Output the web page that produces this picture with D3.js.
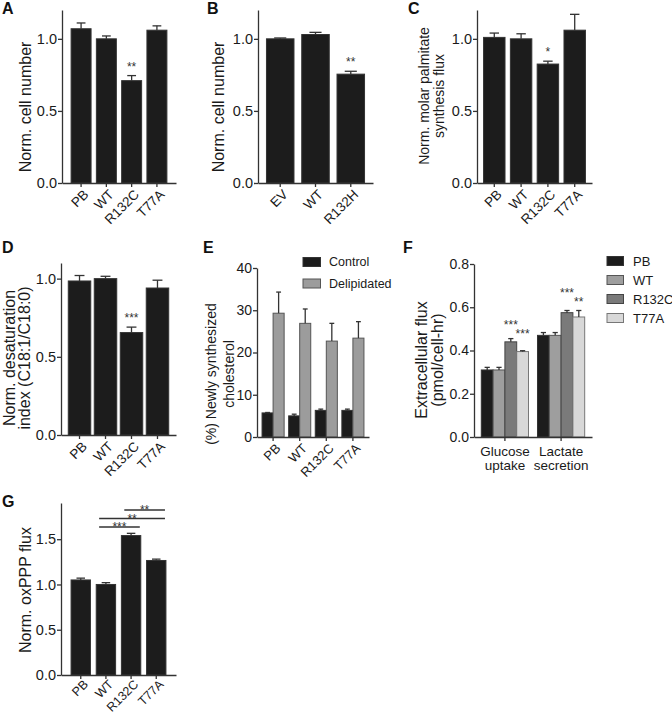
<!DOCTYPE html>
<html>
<head>
<meta charset="utf-8">
<script src="https://cdn.jsdelivr.net/npm/d3@7"></script>
<style>
body { margin: 0; background: #fff; }
svg { display: block; font-family: "Liberation Sans", Arial, sans-serif; }
</style>
</head>
<body>
<svg width="672" height="717"></svg>
<script>
const width = 672;
const height = 717;

//--------------------data--------------------
const catsA = ["PB", "WT", "R132C", "T77A"];
const valsA = [1.07, 1.00, 0.71, 1.06];
const errA = [0.04, 0.02, 0.035, 0.03];
const starsA = ["", "", "**", ""];

const catsB = ["EV", "WT", "R132H"];
const valsB = [1.00, 1.03, 0.755];
const errB = [0.006, 0.015, 0.02];
const starsB = ["", "", "**"];

const catsC = ["PB", "WT", "R132C", "T77A"];
const valsC = [1.01, 1.00, 0.825, 1.06];
const errC = [0.03, 0.035, 0.02, 0.11];
const starsC = ["", "", "*", ""];

const catsD = ["PB", "WT", "R132C", "T77A"];
const valsD = [0.985, 1.00, 0.655, 0.94];
const errD = [0.035, 0.015, 0.035, 0.05];
const starsD = ["", "", "***", ""];

const catsE = ["PB", "WT", "R132C", "T77A"];
const seriesE = ["Control", "Delipidated"];
const controlE = [5.7, 5.0, 6.3, 6.3];
const controlErrE = [0.1, 0.4, 0.3, 0.3];
const delipE = [29.3, 26.9, 22.7, 23.4];
const delipErrE = [5.0, 3.4, 4.2, 3.9];

const groupsF = [["Glucose", "uptake"], ["Lactate", "secretion"]];
const seriesF = ["PB", "WT", "R132C", "T77A"];
const glucoseF = [0.31, 0.31, 0.44, 0.395];
const glucoseErrF = [0.012, 0.012, 0.015, 0.004];
const lactateF = [0.47, 0.47, 0.575, 0.555];
const lactateErrF = [0.013, 0.013, 0.01, 0.03];
const glucoseStarsF = ["", "", "***", "***"];
const lactateStarsF = ["", "", "***", "**"];

const catsG = ["PB", "WT", "R132C", "T77A"];
const valsG = [1.05, 1.00, 1.54, 1.265];
const errG = [0.02, 0.02, 0.025, 0.015];
const sigG = [["WT", "R132C", "***"], ["WT", "T77A", "**"], ["R132C", "T77A", "**"]];

//--------------------helpers--------------------
const svg = d3.select("svg");
const axisColor = "#333";
const textColor = "#1a1a1a";

function styleAxis(g, fs) {
    g.attr("font-family", null).attr("font-size", null);
    g.select(".domain").attr("stroke", axisColor).attr("stroke-width", 1.3);
    g.selectAll(".tick line").attr("stroke", axisColor).attr("stroke-width", 1.3);
    g.selectAll(".tick text").attr("fill", textColor).style("font-size", fs + "px");
}

function drawYAxis(y, x0, tickVals, fmt, fs) {
    const g = svg.append("g")
        .attr("transform", "translate(" + x0 + ",0)")
        .call(d3.axisLeft(y).tickValues(tickVals).tickFormat(fmt)
            .tickSize(4).tickPadding(1).tickSizeOuter(0));
    styleAxis(g, fs);
}

function drawXAxisRotated(x, yBase, fs, dy) {
    const g = svg.append("g")
        .attr("transform", "translate(0," + yBase + ")")
        .call(d3.axisBottom(x).tickSize(4).tickSizeOuter(0));
    styleAxis(g, fs);
    g.selectAll(".tick text")
        .attr("x", 0)
        .attr("y", 0)
        .attr("dy", "0.35em")
        .attr("transform", "translate(5," + dy + ") rotate(-45)")
        .style("text-anchor", "end");
}

function yLabel(lines, cx, cy, fs, gap) {
    lines.forEach((t, i) => {
        svg.append("text")
            .attr("transform", "translate(" + (cx + i * gap) + "," + cy + ") rotate(-90)")
            .attr("dy", "0.35em")
            .attr("text-anchor", "middle")
            .attr("fill", textColor)
            .style("font-size", fs + "px")
            .text(t);
    });
}

function panelLetter(letter, x, y) {
    svg.append("text")
        .attr("x", x)
        .attr("y", y)
        .attr("fill", "#111")
        .style("font-size", "16px")
        .style("font-weight", "bold")
        .text(letter);
}

function drawBar(x, w, y, yBase, v, e, fill, stroke) {
    svg.append("rect")
        .attr("x", x)
        .attr("y", y(v))
        .attr("width", w)
        .attr("height", yBase - y(v))
        .attr("fill", fill)
        .attr("stroke", stroke)
        .attr("stroke-width", 1);

    //upper error whisker with cap
    const cx = x + w / 2;
    svg.append("line")
        .attr("x1", cx).attr("x2", cx)
        .attr("y1", y(v)).attr("y2", y(v + e))
        .attr("stroke", axisColor).attr("stroke-width", 1.3);
    svg.append("line")
        .attr("x1", cx - w * 0.22).attr("x2", cx + w * 0.22)
        .attr("y1", y(v + e)).attr("y2", y(v + e))
        .attr("stroke", axisColor).attr("stroke-width", 1.3);
}

function drawStars(cx, yTop, s, lift) {
    if (!s) return;
    svg.append("text")
        .attr("x", cx)
        .attr("y", yTop - lift + 7)
        .attr("text-anchor", "middle")
        .attr("fill", "#333")
        .style("font-size", "12px")
        .text(s);
}

//--------------------simple bar panel--------------------
function drawSimplePanel(cfg) {
    const y = d3.scaleLinear().domain([0, cfg.yMax]).range([cfg.yBase, cfg.yTop]);
    const x = d3.scaleBand().domain(cfg.cats).range([cfg.x0, cfg.x1])
        .paddingInner(cfg.padIn).paddingOuter(cfg.padOut);
    const bw = x.bandwidth();

    cfg.cats.forEach((c, i) => {
        drawBar(x(c), bw, y, cfg.yBase, cfg.vals[i], cfg.errs[i], "#1c1c1c", "#333");
        if (cfg.stars)
            drawStars(x(c) + bw / 2, y(cfg.vals[i] + cfg.errs[i]), cfg.stars[i], 12);
    });

    drawYAxis(y, cfg.x0, cfg.ticks, d3.format(".1f"), cfg.fs);
    drawXAxisRotated(x, cfg.yBase, cfg.xfs || 13.5, cfg.xdy || 9);
    return { x, y, bw };
}

//--------------------A--------------------
drawSimplePanel({
    cats: catsA, vals: valsA, errs: errA, stars: starsA,
    x0: 62, x1: 176, yBase: 183, yTop: 10, yMax: 1.2,
    padIn: 0.21, padOut: 0.36, ticks: [0, 0.5, 1.0], fs: 14.5
});
yLabel(["Norm. cell number"], 25, 107, 16, 0);
panelLetter("A", 2, 14);

//--------------------B--------------------
drawSimplePanel({
    cats: catsB, vals: valsB, errs: errB, stars: starsB,
    x0: 258, x1: 373, yBase: 183, yTop: 10, yMax: 1.2,
    padIn: 0.22, padOut: 0.24, ticks: [0, 0.5, 1.0], fs: 14.5
});
yLabel(["Norm. cell number"], 218, 107, 16, 0);
panelLetter("B", 207, 14);

//--------------------C--------------------
drawSimplePanel({
    cats: catsC, vals: valsC, errs: errC, stars: starsC,
    x0: 477, x1: 592, yBase: 183, yTop: 10, yMax: 1.2,
    padIn: 0.2, padOut: 0.245, ticks: [0, 0.5, 1.0], fs: 14.5
});
yLabel(["Norm. molar palmitate", "synthesis flux"], 424, 96, 14, 15);
panelLetter("C", 408, 14);

//--------------------D--------------------
drawSimplePanel({
    cats: catsD, vals: valsD, errs: errD, stars: starsD,
    x0: 61, x1: 176, yBase: 435, yTop: 263, yMax: 1.1,
    padIn: 0.135, padOut: 0.28, ticks: [0, 0.5, 1.0], fs: 14.5
});
yLabel(["Norm. desaturation", "index (C18:1/C18:0)"], 9, 358, 16, 15);
panelLetter("D", 2, 253);

//--------------------E--------------------
(function () {
    const x0 = 257, x1 = 369, yBase = 437, yTop = 268;
    const y = d3.scaleLinear().domain([0, 40]).range([yBase, yTop]);
    const x = d3.scaleBand().domain(catsE).range([x0, x1]).paddingInner(0.17).paddingOuter(0.19);
    const xi = d3.scaleBand().domain(seriesE).range([0, x.bandwidth()]);
    const fills = ["#1c1c1c", "#9c9c9c"];
    const strokes = ["#333", "#555"];
    const vals = [controlE, delipE];
    const errs = [controlErrE, delipErrE];

    catsE.forEach((c, i) => {
        seriesE.forEach((s, j) => {
            drawBar(x(c) + xi(s), xi.bandwidth(), y, yBase, vals[j][i], errs[j][i], fills[j], strokes[j]);
        });
    });

    drawYAxis(y, x0, [0, 10, 20, 30, 40], d3.format("d"), 14);
    drawXAxisRotated(x, yBase, 13, 9);

    //legend
    seriesE.forEach((s, j) => {
        const ly = 262 + j * 21.5;
        svg.append("rect")
            .attr("x", 303).attr("y", ly - 4.5)
            .attr("width", 17.5).attr("height", 9)
            .attr("fill", fills[j]).attr("stroke", strokes[j]);
        svg.append("text")
            .attr("x", 329).attr("y", ly)
            .attr("dy", "0.35em")
            .attr("fill", textColor)
            .style("font-size", "12.5px")
            .text(s);
    });

    yLabel(["(%) Newly synthesized", "cholesterol"], 211, 374, 14, 18);
    panelLetter("E", 203, 253);
})();

//--------------------F--------------------
(function () {
    const x0 = 474, x1 = 592, yBase = 437, yTop = 264;
    const y = d3.scaleLinear().domain([0, 0.8]).range([yBase, yTop]);
    const groupKeys = groupsF.map(g => g.join(" "));
    const x = d3.scaleBand().domain(groupKeys).range([x0, x1]).paddingInner(0.16).paddingOuter(0.13);
    const xi = d3.scaleBand().domain(seriesF).range([0, x.bandwidth()]);
    const fills = ["#1c1c1c", "#9e9e9e", "#7a7a7a", "#d8d8d8"];
    const strokes = ["#333", "#555", "#444", "#777"];
    const vals = [glucoseF, lactateF];
    const errs = [glucoseErrF, lactateErrF];
    const stars = [glucoseStarsF, lactateStarsF];
    const starLift = [[0, 0, 17, 20], [0, 0, 20, 11.5]];

    groupKeys.forEach((gk, i) => {
        seriesF.forEach((s, j) => {
            const bx = x(gk) + xi(s);
            drawBar(bx, xi.bandwidth(), y, yBase, vals[i][j], errs[i][j], fills[j], strokes[j]);
            drawStars(bx + xi.bandwidth() / 2, y(vals[i][j] + errs[i][j]), stars[i][j], starLift[i][j]);
        });
    });

    drawYAxis(y, x0, [0, 0.2, 0.4, 0.6, 0.8], d3.format(".1f"), 14);

    const g = svg.append("g")
        .attr("transform", "translate(0," + yBase + ")")
        .call(d3.axisBottom(x).tickSize(4).tickSizeOuter(0).tickFormat(""));
    styleAxis(g, 13.5);

    groupsF.forEach((lines, i) => {
        const cx = x(groupKeys[i]) + x.bandwidth() / 2;
        lines.forEach((t, k) => {
            svg.append("text")
                .attr("x", cx)
                .attr("y", yBase + 19 + k * 14)
                .attr("text-anchor", "middle")
                .attr("fill", textColor)
                .style("font-size", "13.5px")
                .text(t);
        });
    });

    //legend
    seriesF.forEach((s, j) => {
        const ly = 261 + j * 19;
        svg.append("rect")
            .attr("x", 607).attr("y", ly - 4.5)
            .attr("width", 16.5).attr("height", 9)
            .attr("fill", fills[j]).attr("stroke", strokes[j]);
        svg.append("text")
            .attr("x", 633).attr("y", ly)
            .attr("dy", "0.35em")
            .attr("fill", textColor)
            .style("font-size", "13px")
            .text(s);
    });

    yLabel(["Extracellular flux", "(pmol/cell-hr)"], 421, 360, 16, 16.5);
    panelLetter("F", 403, 253);
})();

//--------------------G--------------------
(function () {
    const p = drawSimplePanel({
        cats: catsG, vals: valsG, errs: errG, stars: null,
        x0: 61, x1: 176, yBase: 675, yTop: 503, yMax: 1.9,
        padIn: 0.23, padOut: 0.4, ticks: [0, 0.5, 1.0, 1.5], fs: 14.5,
        xfs: 12.5, xdy: 7
    });

    //significance brackets
    const levels = [527, 518.5, 510];
    sigG.forEach((d, k) => {
        const xa = p.x(d[0]) + p.bw * 0.15;
        const xb = p.x(d[1]) + p.bw * 0.95;
        svg.append("line")
            .attr("x1", xa).attr("x2", xb)
            .attr("y1", levels[k]).attr("y2", levels[k])
            .attr("stroke", axisColor).attr("stroke-width", 1.3);
        svg.append("text")
            .attr("x", (xa + xb) / 2)
            .attr("y", levels[k] + 4)
            .attr("text-anchor", "middle")
            .attr("fill", "#333")
            .style("font-size", "12px")
            .text(d[2]);
    });

    yLabel(["Norm. oxPPP flux"], 25, 590, 16, 0);
    panelLetter("G", 2, 507);
})();
</script>
</body>
</html>
